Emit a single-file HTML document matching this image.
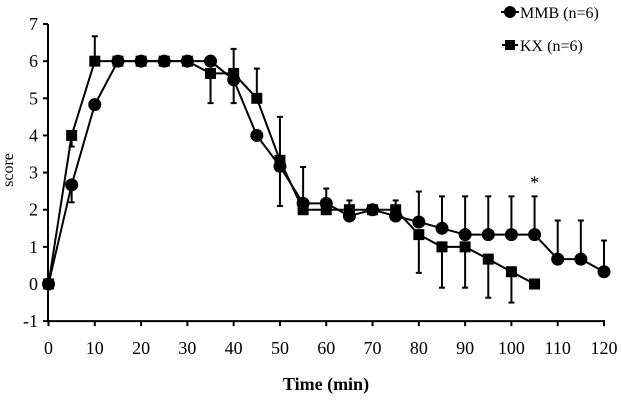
<!DOCTYPE html>
<html><head><meta charset="utf-8"><style>
body{margin:0;background:#fff}
svg text{font-family:"Liberation Serif",serif;fill:#000}
</style></head><body>
<svg id="chart" width="622" height="400" xmlns="http://www.w3.org/2000/svg"></svg>
<script>
const times=[0,5,10,15,20,25,30,35,40,45,50,55,60,65,70,75,80,85,90,95,100,105,110,115,120];
const mmbValues=[0,2.67,4.83,6,6,6,6,6,5.5,4,3.17,2.17,2.17,1.83,2,1.83,1.67,1.5,1.33,1.33,1.33,1.33,0.67,0.67,0.33];
const kxValues=[0,4,6,6,6,6,6,5.67,5.67,5,3.33,2,2,2,2,2,1.33,1,1,0.67,0.33,0];
const mmbErrLow=[null,2.2,null,null,null,null,null,null,null,null,2.1,null,null,null,null,null,null,null,null,null,null,null,null,null,null];
const mmbErrHigh=[null,null,null,null,null,null,null,null,null,null,null,null,2.57,2.25,null,null,2.49,2.36,2.36,2.36,2.36,2.36,1.71,1.71,1.17];
const kxErrLow=[null,3.7,null,null,null,null,null,4.87,4.87,null,null,null,null,null,null,null,0.3,-0.1,-0.1,-0.37,-0.5,null];
const kxErrHigh=[null,null,6.67,null,null,null,null,null,6.33,5.8,4.5,3.15,null,null,null,2.25,null,null,null,null,null,null];
const xTicks=[0,10,20,30,40,50,60,70,80,90,100,110,120];
const yTicks=[-1,0,1,2,3,4,5,6,7];
const NS="http://www.w3.org/2000/svg";
const svg=document.getElementById('chart');
const X=v=>48.5+v*(604-48.5)/120;
const Y=v=>284-v*37.14;
function el(t,a,p){const e=document.createElementNS(NS,t);for(const k in a)e.setAttribute(k,a[k]);(p||svg).appendChild(e);return e;}
let e;
e=el('line',{x1:48,y1:Y(7),x2:48,y2:Y(-1)+1,stroke:'#000','stroke-width':2});


e=el('line',{x1:47,y1:Y(-1),x2:605,y2:Y(-1),stroke:'#000','stroke-width':2});


yTicks.forEach(v=>{
 el('line',{x1:43,x2:48,y1:Y(v),y2:Y(v),stroke:'#000','stroke-width':2});
 e=el('text',{x:38,y:Y(v)+6,'text-anchor':'end','font-size':18});e.textContent=v;
 
 
});
xTicks.forEach(v=>{
 el('line',{x1:X(v),x2:X(v),y1:Y(-1),y2:Y(-1)+5,stroke:'#000','stroke-width':2});
 e=el('text',{x:X(v),y:354,'text-anchor':'middle','font-size':18});e.textContent=v;
 
 
});
e=el('text',{x:326,y:390,'text-anchor':'middle','font-size':18,'font-weight':'bold'});e.textContent='Time (min)';


e=el('text',{x:0,y:0,'text-anchor':'middle','font-size':16,transform:'translate(13,170) rotate(-90)'});e.textContent='score';


function errBars(vals,lo,hi){
 vals.forEach((v,i)=>{
  [lo[i],hi[i]].forEach(t=>{ if(t==null)return;
   el('line',{x1:X(times[i]),x2:X(times[i]),y1:Y(v),y2:Y(t),stroke:'#000','stroke-width':2});
   const b=el('line',{x1:X(times[i])-3,x2:X(times[i])+3,y1:Y(t),y2:Y(t),stroke:'#000','stroke-width':2});
   
   
  });
 });
}
errBars(mmbValues,mmbErrLow,mmbErrHigh);
errBars(kxValues,kxErrLow,kxErrHigh);
function series(vals,shape,name){
 e=el('polyline',{points:vals.map((v,i)=>X(times[i])+','+Y(v)).join(' '),fill:'none',stroke:'#000','stroke-width':2});
 
 
 vals.forEach((v,i)=>{
  if(shape==='c') e=el('circle',{cx:X(times[i]),cy:Y(v),r:6.5,fill:'#000'});
  else e=el('rect',{x:X(times[i])-5.5,y:Y(v)-5.5,width:11,height:11,fill:'#000'});
  
  
 });
}
series(mmbValues,'c','mmb');
series(kxValues,'s','kx');
e=el('text',{x:X(105),y:Y(2.36)-8,'text-anchor':'middle','font-size':18});e.textContent='*';


// legend
let g=el('g',{});


el('line',{x1:501,x2:519,y1:12,y2:12,stroke:'#000','stroke-width':2},g);
el('circle',{cx:510,cy:12,r:6,fill:'#000'},g);
e=el('text',{x:520,y:18,'font-size':16},g);e.textContent='MMB (n=6)';
g=el('g',{});


el('line',{x1:502,x2:518,y1:45,y2:45,stroke:'#000','stroke-width':2},g);
el('rect',{x:505,y:40,width:10,height:10,fill:'#000'},g);
e=el('text',{x:520,y:51,'font-size':16},g);e.textContent='KX (n=6)';
</script>
</body></html>
